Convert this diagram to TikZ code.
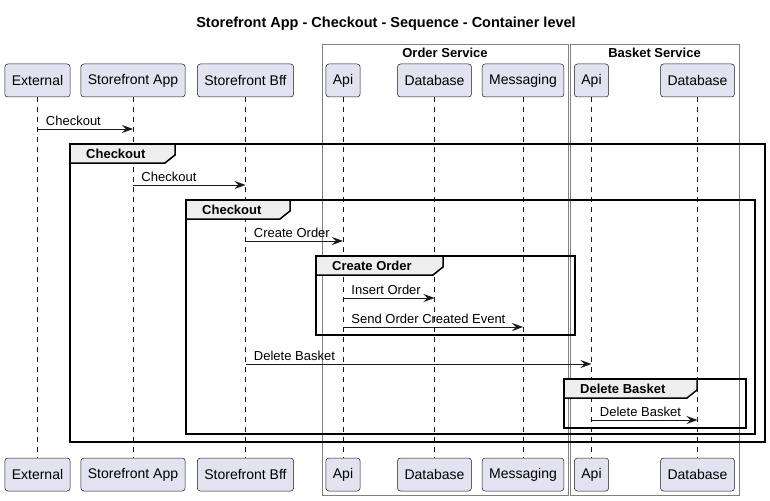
\documentclass[tikz,border=0pt]{standalone}
\usepackage{fontspec}
\setmainfont{Liberation Sans}
\usepackage{xcolor}
\usepackage{tikz}
\usetikzlibrary{arrows.meta}
\tikzset{>={Stealth[length=11pt, width=8pt, inset=4pt]}}
\definecolor{partfill}{HTML}{E2E2F0}
\definecolor{partline}{HTML}{181818}
\definecolor{tabfill}{HTML}{EEEEEE}
\tikzset{
   part/.style={draw=partline, fill=partfill, rounded corners=3pt, line width=0.5pt, minimum height=33pt, inner xsep=7pt, font=\fontsize{14pt}{16pt}\selectfont},
   life/.style={draw=partline, line width=0.5pt, dash pattern=on 5pt off 5pt},
   msg/.style={->, draw=partline, line width=0.9pt},
   msglbl/.style={anchor=base west, inner sep=0pt, xshift=8pt, yshift=4pt, font=\fontsize{13pt}{15pt}\selectfont},
   grplbl/.style={anchor=base west, inner sep=0pt, font=\bfseries\fontsize{13pt}{15pt}\selectfont},
   svc/.style={draw=black!50, line width=0.6pt},
   svclbl/.style={inner sep=0pt, font=\bfseries\fontsize{13pt}{15pt}\selectfont},
}

\begin{document}
\begin{tikzpicture}[x=1pt, y=-1pt]
   \useasboundingbox (0,0) rectangle (770,500);
   \node[font=\bfseries\fontsize{14.5pt}{17pt}\selectfont] (title) at (386,24) {Storefront App - Checkout - Sequence - Container level};

   \draw[svc] (322,44) rectangle (568,495);
   \node[svclbl] (osvc) at (445,53) {Order Service};
   \draw[svc] (570,44) rectangle (739,495);
   \node[svclbl] (bsvc) at (654.5,53) {Basket Service};

   \foreach \n/\x/\lbl in {ext/37.5/External, app/133/Storefront App, bff/245.5/Storefront Bff, api/343/Api, db/434.5/Database, mq/523/Messaging, bapi/591.5/Api, bdb/697.5/Database}{
      \node[part] (\n) at (\x,80.5) {\lbl};
      \node[part] (\n2) at (\x,474.5) {\lbl};
      \draw[life] (\n) -- (\n2);
   }

   \foreach \gl/\gt/\gr/\gb/\gw/\gname in {70/144/765/442/175/Checkout, 186/200/755/434/290/Checkout, 316/256/575/335/443/Create Order, 564/379/746/428/697/Delete Basket}{
      \draw[line width=1.5pt] (\gl,\gt) rectangle (\gr,\gb);
      \draw[line width=1.5pt, fill=tabfill] (\gl,\gt) -- (\gw,\gt) -- (\gw,\gt+11) -- (\gw-10,\gt+19) -- (\gl,\gt+19) -- cycle;
      \node[grplbl] (g\gt) at (\gl+16,\gt+14.5) {\gname};
   }

   \foreach \src/\dst/\y/\txt in {ext/app/129/Checkout, app/bff/185/Checkout, bff/api/241/Create Order, api/db/298/Insert Order, api/mq/327/Send Order Created Event, bff/bapi/364/Delete Basket, bapi/bdb/420/Delete Basket}
      \draw[msg] (\src |- 0,\y) -- (\dst |- 0,\y) node[msglbl, pos=0] (m\y) {\txt};

\end{tikzpicture}
\end{document}
